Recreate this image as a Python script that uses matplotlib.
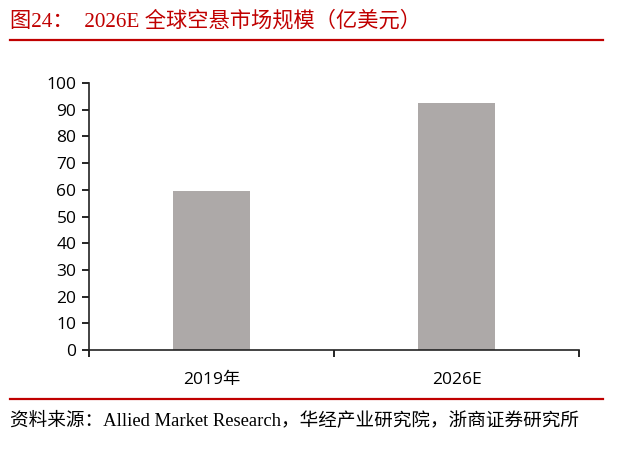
import matplotlib.pyplot as plt
from matplotlib.lines import Line2D
from matplotlib.ticker import FixedLocator

categories = ['2019年', '2026E']
values = [59.5, 92.5]
y_ticks = [0, 10, 20, 30, 40, 50, 60, 70, 80, 90, 100]

title = '图24：  2026E 全球空悬市场规模（亿美元）'
source = '资料来源：Allied Market Research，华经产业研究院，浙商证券研究所'

red = '#C00000'
serif_cjk = ['Liberation Serif', 'Noto Sans CJK SC']
sans_cjk = ['Open Sans', 'Noto Sans CJK SC']

fig = plt.figure(figsize=(6.2, 4.73), dpi=100)
ax = fig.add_axes([0.1435, 0.26, 0.7905, 0.5645])

x = range(len(categories))
ax.bar(x, values, width=0.315, color='#ADA9A8')

ax.set_xlim(-0.5, 1.5)
ax.set_ylim(0, 100)
ax.set_yticks(y_ticks)
ax.set_xticks(list(x))
ax.set_xticklabels(categories, family=sans_cjk, fontsize=12.5)
ax.xaxis.set_minor_locator(FixedLocator([-0.5, 0.5, 1.5]))
ax.tick_params(axis='x', which='major', length=0, pad=16)
ax.tick_params(axis='x', which='minor', length=5, width=1.2, direction='out')
ax.tick_params(axis='y', length=5, width=1.2, direction='out', labelsize=12.5, pad=4)
for lab in ax.get_yticklabels():
    lab.set_family(sans_cjk)

for s in ['top', 'right']:
    ax.spines[s].set_visible(False)
for s in ['left', 'bottom']:
    ax.spines[s].set_linewidth(1.2)
    ax.spines[s].set_color('#222222')

fig.text(0.016, 0.955, title, color=red, fontsize=15.3, family=serif_cjk,
         ha='left', va='center')
fig.add_artist(Line2D([0.016, 0.973], [0.916, 0.916], color=red, lw=1.6,
                      transform=fig.transFigure))
fig.add_artist(Line2D([0.016, 0.973], [0.157, 0.157], color=red, lw=1.6,
                      transform=fig.transFigure))
fig.text(0.016, 0.112, source, color='black', fontsize=13.4, family=serif_cjk,
         ha='left', va='center')

fig.savefig('out.png', dpi=100)
